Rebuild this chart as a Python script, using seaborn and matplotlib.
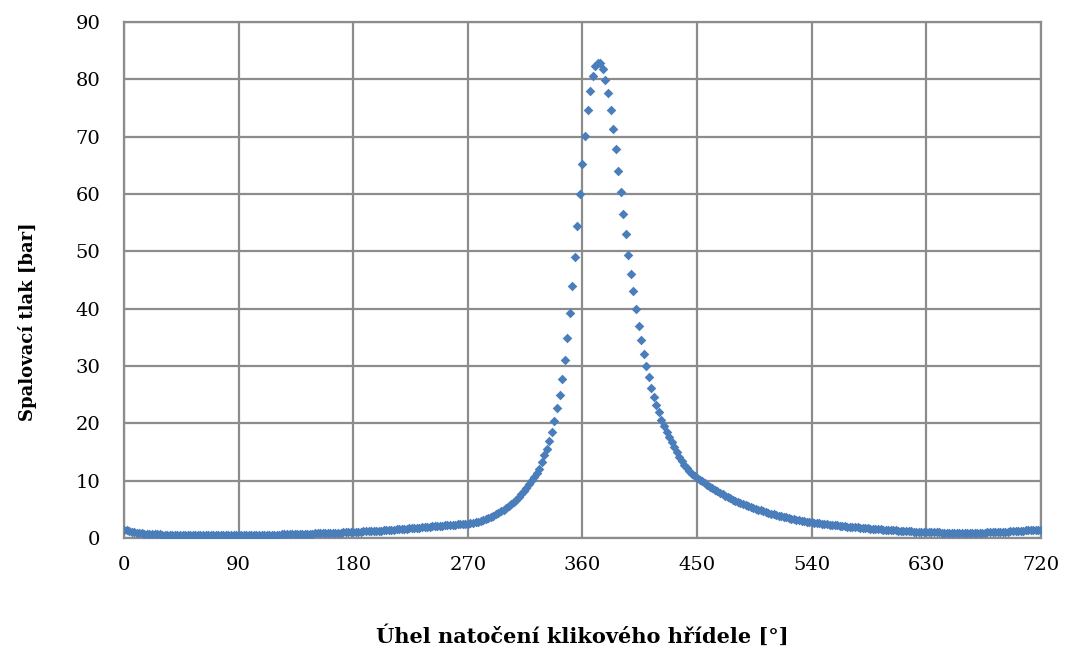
import numpy as np
import pandas as pd
import seaborn as sns
import matplotlib.pyplot as plt

# crank angle sampled every 2 degrees over one 4-stroke cycle
step_deg = 2
angle = np.arange(0, 720 + step_deg, step_deg)

# combustion pressure [bar], one value per 2 deg
p_intake = [  # 0 .. 90
    1.40, 1.32, 1.22, 1.12, 1.03, 0.95, 0.88, 0.82, 0.77, 0.72,
    0.69, 0.67, 0.65, 0.63, 0.62, 0.61, 0.60, 0.59, 0.58, 0.57,
    0.56, 0.56, 0.55, 0.55, 0.54, 0.54, 0.53, 0.53, 0.53, 0.52,
    0.52, 0.52, 0.51, 0.51, 0.51, 0.51, 0.50, 0.50, 0.50, 0.50,
    0.50, 0.50, 0.50, 0.50, 0.50, 0.50,
]
p_compression = [  # 92 .. 270
    0.50, 0.51, 0.51, 0.52, 0.52, 0.53, 0.53, 0.54, 0.55, 0.55,
    0.56, 0.57, 0.58, 0.59, 0.60, 0.61, 0.62, 0.63, 0.64, 0.65,
    0.66, 0.67, 0.69, 0.70, 0.71, 0.73, 0.74, 0.76, 0.77, 0.79,
    0.80, 0.82, 0.84, 0.85, 0.87, 0.89, 0.91, 0.92, 0.94, 0.96,
    0.98, 1.00, 1.02, 1.04, 1.06, 1.08, 1.10, 1.12, 1.14, 1.17,
    1.19, 1.21, 1.24, 1.26, 1.29, 1.31, 1.34, 1.37, 1.40, 1.43,
    1.46, 1.49, 1.52, 1.55, 1.59, 1.62, 1.66, 1.70, 1.73, 1.77,
    1.81, 1.85, 1.89, 1.93, 1.97, 2.01, 2.05, 2.09, 2.13, 2.17,
    2.21, 2.25, 2.28, 2.32, 2.35, 2.38, 2.41, 2.44, 2.47, 2.50,
]
p_combustion = [  # 272 .. 450
    2.58, 2.67, 2.77, 2.88, 3.00, 3.14, 3.30, 3.48, 3.68, 3.90,
    4.13, 4.38, 4.65, 4.94, 5.25, 5.58, 5.93, 6.30, 6.70, 7.15,
    7.65, 8.20, 8.80, 9.45, 10.1, 10.7, 11.3, 12.1, 13.2, 14.4,
    15.6, 17.0, 18.5, 20.4, 22.6, 24.9, 27.8, 31.1, 34.9, 39.2,
    44.0, 49.1, 54.5, 60.0, 65.2, 70.1, 74.7, 78.0, 80.6, 82.3,
    82.9, 82.8, 81.8, 79.9, 77.6, 74.6, 71.3, 67.8, 64.1, 60.4,
    56.6, 53.0, 49.4, 46.0, 43.0, 39.9, 37.0, 34.5, 32.1, 30.0,
    28.0, 26.2, 24.6, 23.2, 21.9, 20.6, 19.5, 18.5, 17.6, 16.7,
    15.8, 15.0, 14.2, 13.5, 12.8, 12.2, 11.7, 11.2, 10.8, 10.5,
]
p_exhaust = [  # 452 .. 720
    10.2, 9.90, 9.60, 9.30, 8.95, 8.65, 8.40, 8.15, 7.90, 7.65,
    7.40, 7.15, 6.90, 6.70, 6.50, 6.30, 6.10, 5.90, 5.70, 5.55,
    5.40, 5.25, 5.10, 4.95, 4.80, 4.65, 4.52, 4.40, 4.27, 4.15,
    4.03, 3.92, 3.80, 3.70, 3.60, 3.50, 3.40, 3.30, 3.20, 3.12,
    3.04, 2.96, 2.88, 2.81, 2.74, 2.68, 2.62, 2.56, 2.50, 2.45,
    2.40, 2.35, 2.30, 2.25, 2.20, 2.15, 2.10, 2.05, 2.00, 1.96,
    1.92, 1.88, 1.84, 1.80, 1.76, 1.72, 1.68, 1.65, 1.61, 1.58,
    1.54, 1.51, 1.48, 1.45, 1.42, 1.39, 1.36, 1.33, 1.30, 1.27,
    1.24, 1.21, 1.18, 1.16, 1.13, 1.11, 1.08, 1.06, 1.04, 1.02,
    1.01, 1.00, 0.99, 0.98, 0.97, 0.96, 0.95, 0.95, 0.94, 0.94,
    0.93, 0.93, 0.93, 0.93, 0.93, 0.93, 0.93, 0.93, 0.94, 0.94,
    0.95, 0.95, 0.96, 0.97, 0.98, 0.99, 1.00, 1.02, 1.04, 1.06,
    1.08, 1.11, 1.14, 1.17, 1.20, 1.23, 1.26, 1.29, 1.32, 1.35,
    1.38, 1.40, 1.42, 1.43, 1.44,
]

x_ticks = [0, 90, 180, 270, 360, 450, 540, 630, 720]
y_ticks = [0, 10, 20, 30, 40, 50, 60, 70, 80, 90]

pressure = p_intake + p_compression + p_combustion + p_exhaust
df = pd.DataFrame({'angle': angle, 'pressure': pressure})

sns.set_style('white')
plt.rcParams['font.family'] = ['DejaVu Serif']
plt.rcParams['text.color'] = 'black'

fig = plt.figure(figsize=(10.68, 6.55), dpi=100)
ax = fig.add_axes([0.1161, 0.1786, 0.8586, 0.7878])

grid_col = '#8c8c8c'

sns.scatterplot(data=df, x='angle', y='pressure', ax=ax, marker='D',
                s=24, color='#4A7EBB', linewidth=0, zorder=3)

ax.set_xlim(0, 720)
ax.set_ylim(0, 90)
ax.set_xticks(x_ticks)
ax.set_yticks(y_ticks)
ax.grid(True, color=grid_col, linewidth=1.6)
ax.set_axisbelow(True)
for side in ax.spines.values():
    side.set_color(grid_col)
    side.set_linewidth(1.6)
ax.tick_params(axis='both', direction='out', length=7, width=1.6,
               color=grid_col, labelsize=14, labelcolor='black')
ax.tick_params(axis='y', pad=10)
ax.tick_params(axis='x', pad=6)

ax.set_xlabel('Úhel natočení klikového hřídele [°]', fontsize=15,
              fontweight='bold', color='black')
ax.set_ylabel('Spalovací tlak [bar]', fontsize=13, fontweight='bold',
              color='black')
ax.xaxis.set_label_coords(0.5, -0.168)
ax.yaxis.set_label_coords(-0.095, 0.42)

fig.savefig('out.png', dpi=100)
